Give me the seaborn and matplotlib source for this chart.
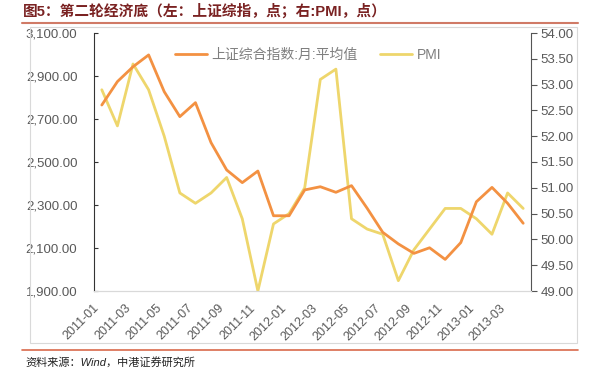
import matplotlib
matplotlib.use('Agg')
import matplotlib.pyplot as plt
import matplotlib.ticker as mticker
from matplotlib.patches import Rectangle
from matplotlib.lines import Line2D
import seaborn as sns

# 数据
months = ['2011-01', '2011-02', '2011-03', '2011-04', '2011-05', '2011-06', '2011-07',
          '2011-08', '2011-09', '2011-10', '2011-11', '2011-12', '2012-01', '2012-02',
          '2012-03', '2012-04', '2012-05', '2012-06', '2012-07', '2012-08', '2012-09',
          '2012-10', '2012-11', '2012-12', '2013-01', '2013-02', '2013-03', '2013-04']
sh_index = [2765, 2874, 2943, 2998, 2827, 2711, 2776, 2590, 2463, 2404, 2458, 2250,
            2250, 2370, 2385, 2359, 2390, 2285, 2173, 2119, 2075, 2101, 2047, 2125,
            2315, 2382, 2308, 2215]
pmi = [52.9, 52.2, 53.4, 52.9, 52.0, 50.9, 50.7, 50.9, 51.2, 50.4, 49.0, 50.3,
       50.5, 51.0, 53.1, 53.3, 50.4, 50.2, 50.1, 49.2, 49.8, 50.2, 50.6, 50.6,
       50.4, 50.1, 50.9, 50.6]
sh_name = '上证综合指数:月:平均值'
pmi_name = 'PMI'

sns.set_style('white')
plt.rcParams['font.family'] = ['Liberation Sans', 'Noto Sans CJK SC', 'DejaVu Sans']
plt.rcParams['axes.unicode_minus'] = False

c_sh = '#F39142'
c_pmi = '#EED66C'
c_tick = '#595959'

W, H = 598, 370
fig = plt.figure(figsize=(W / 100, H / 100), dpi=100)
ax = fig.add_axes([94 / W, 1 - 291 / H, (531 - 94) / W, (291 - 33) / H])
ax2 = ax.twinx()

x = list(range(len(months)))
sns.lineplot(x=x, y=sh_index, ax=ax, color=c_sh, linewidth=2.0, legend=False)
sns.lineplot(x=x, y=pmi, ax=ax2, color=c_pmi, linewidth=2.0, legend=False)
ax2.set_zorder(ax.get_zorder() - 1)
ax.patch.set_visible(False)

ax.set_xlim(-0.5, len(months) - 0.5)
ax.set_ylim(1900, 3100)
ax2.set_ylim(49, 54)
ax.set_yticks(range(1900, 3101, 200))
ax.yaxis.set_major_formatter(mticker.FuncFormatter(lambda v, p: f'{v:,.2f}'))
ax2.set_yticks([49 + 0.5 * i for i in range(11)])
ax2.yaxis.set_major_formatter(mticker.FuncFormatter(lambda v, p: f'{v:.2f}'))

ax.set_xticks(x[::2])
ax.set_xticklabels(months[::2], rotation=45, ha='right', fontsize=9, color=c_tick)
ax.set_xticks([i - 0.5 for i in range(0, len(months) + 1, 2)], minor=True)
ax.tick_params(axis='x', which='major', length=0, pad=8)
ax.tick_params(axis='x', which='minor', length=4, color='#D9D9D9', direction='out')
ax.tick_params(axis='y', direction='in', length=3, color='#333333', labelsize=9.5,
               labelcolor=c_tick, pad=12)
ax2.tick_params(axis='y', direction='out', length=4, color='#555555', labelsize=9.5,
                labelcolor=c_tick, pad=3)
ax.set_xlabel('')
ax.set_ylabel('')
ax2.set_ylabel('')

for a in (ax, ax2):
    a.spines['top'].set_visible(False)
    a.spines['bottom'].set_color('#D9D9D9')
    a.spines['left'].set_visible(False)
    a.spines['right'].set_visible(False)
ax.spines['left'].set_visible(True)
ax.spines['left'].set_color('#333333')
ax2.spines['right'].set_visible(True)
ax2.spines['right'].set_color('#555555')

handles = [Line2D([], [], color=c_sh, lw=2.0), Line2D([], [], color=c_pmi, lw=2.0)]
leg = ax.legend(handles, [sh_name, pmi_name], loc='center', bbox_to_anchor=(0.49, 0.915),
                ncol=2, frameon=False, fontsize=10, handlelength=2.3, handletextpad=0.35,
                columnspacing=1.6, labelcolor='#7F7F7F')

# 标题、边框、来源
fig.text(23 / W, 1 - 11 / H, '图5：第二轮经济底（左：上证综指，点；右:PMI，点）',
         fontsize=10.6, fontweight='bold', color='#7A2222', va='center', ha='left')
fig.add_artist(Line2D([22 / W, 578 / W], [1 - 23 / H, 1 - 23 / H], color='#D07A66', lw=1.5))
fig.add_artist(Rectangle((30 / W, 1 - 343 / H), (577 - 30) / W, (343 - 27) / H,
                         fill=False, edgecolor='#D9D9D9', lw=0.8))
fig.add_artist(Line2D([22 / W, 578 / W], [1 - 350 / H, 1 - 350 / H], color='#D9694B', lw=1.2))
fig.text(25 / W, 1 - 362 / H, '资料来源：Wind，中港证券研究所', fontsize=8,
         style='italic', color='#222222', va='center', ha='left')

fig.savefig('out.png', dpi=100)
